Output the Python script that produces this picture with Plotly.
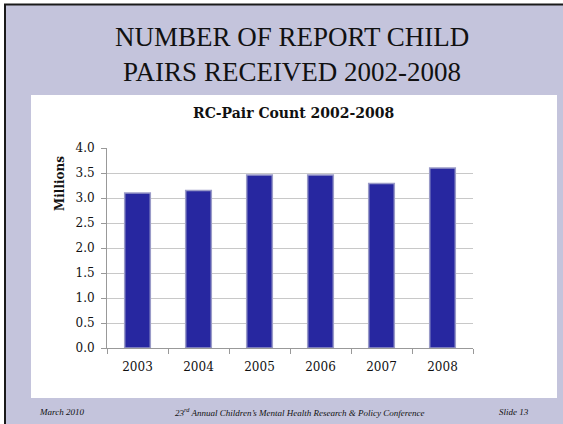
import plotly.graph_objects as go

years = ["2003", "2004", "2005", "2006", "2007", "2008"]
pairs_millions = [3.1, 3.15, 3.46, 3.46, 3.29, 3.6]
y_ticks = [0.0, 0.5, 1.0, 1.5, 2.0, 2.5, 3.0, 3.5, 4.0]

SERIF = "Liberation Serif, Times New Roman, serif"
CHART_FONT = "DejaVu Serif, Georgia, serif"

# plot area in pixels: x 107..473, y 148..348
W, H = 563, 424
L, R, T, B = 107, 473, 148, 348


def px_x(p):
    return (p - L) / (R - L)


def px_y(p):
    return (B - p) / (B - T)


def note(text, x, y, size, family=SERIF, **kw):
    return dict(text=text, xref="paper", yref="paper", x=px_x(x), y=px_y(y),
                xanchor=kw.pop("xanchor", "center"), yanchor="middle",
                showarrow=False, font=dict(family=family, size=size, color="#111111"), **kw)


fig = go.Figure()
fig.add_trace(go.Bar(
    x=years, y=pairs_millions,
    marker=dict(color="#2727a0", line=dict(color="#9a9bc8", width=1.5)),
    width=0.42,
))

shapes = [
    # white margin + dark slide border
    dict(type="rect", xref="paper", yref="paper", layer="below",
         x0=px_x(0), x1=px_x(W), y0=px_y(H), y1=px_y(0),
         fillcolor="white", line_width=0),
    dict(type="rect", xref="paper", yref="paper", layer="below",
         x0=px_x(5), x1=px_x(W + 5), y0=px_y(H + 5), y1=px_y(4.5),
         fillcolor="#c4c4dc", line=dict(color="#1a1a1a", width=2)),
    # white chart box
    dict(type="rect", xref="paper", yref="paper", layer="below",
         x0=px_x(31), x1=px_x(557), y0=px_y(398), y1=px_y(95),
         fillcolor="white", line_width=0),
]

annotations = [
    note("NUMBER OF REPORT CHILD<br>PAIRS RECEIVED 2002-2008", 292, 55, 27),
    note("<b>RC-Pair Count 2002-2008</b>", 293, 113, 14, CHART_FONT),
    note("<b>Millions</b>", 60, 184, 12, CHART_FONT, textangle=-90),
    note("<i>March 2010</i>", 37, 412, 9, xanchor="left"),
    note("<i>23<sup>rd</sup> Annual Children’s Mental Health Research &amp; Policy Conference</i>",
         300, 412, 9),
    note("<i>Slide 13</i>", 531, 412, 9, xanchor="right"),
]

fig.update_layout(
    width=W, height=H,
    margin=dict(l=L, r=W - R, t=T, b=H - B, pad=0),
    paper_bgcolor="#c4c4dc", plot_bgcolor="white",
    showlegend=False, bargap=0.58,
    shapes=shapes, annotations=annotations,
    font=dict(family=CHART_FONT, size=12, color="#111111"),
    xaxis=dict(type="category", showline=True, linecolor="#999999", linewidth=1,
               ticks="outside", tickson="boundaries", ticklen=5, tickcolor="#999999",
               showgrid=False, ticklabelstandoff=8),
    yaxis=dict(range=[0, 4.0], tickvals=y_ticks, tickformat=".1f",
               showline=True, linecolor="#999999", linewidth=1,
               ticks="outside", ticklen=5, tickcolor="#999999",
               gridcolor="#c8c8c8", gridwidth=1, zeroline=False,
               ticklabelstandoff=4),
)

fig.write_html("out.html", config={"displayModeBar": False},
               post_script="document.body.style.margin='0';")
